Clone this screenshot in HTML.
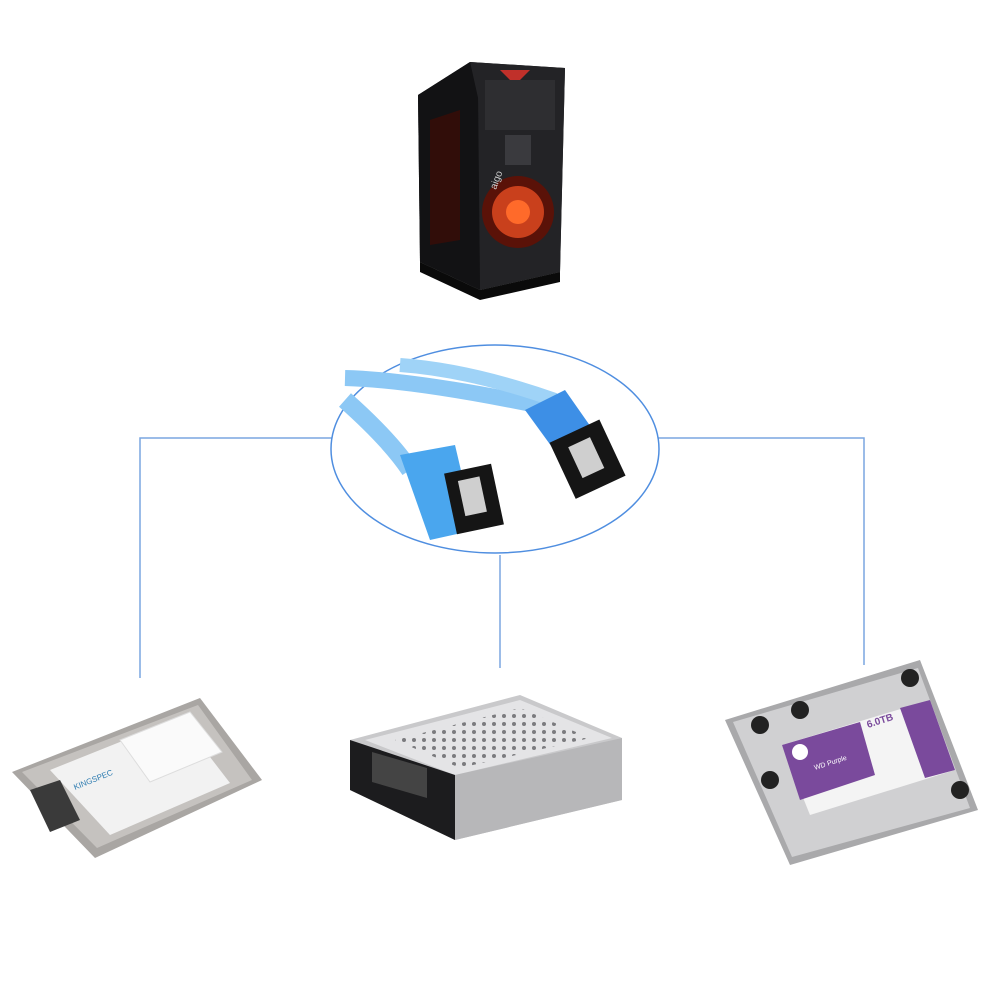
<!DOCTYPE html>
<html><head><meta charset="utf-8"><style>
html,body{margin:0;padding:0;background:#fff;}
svg{display:block}
</style></head><body>
<svg width="1000" height="1000" viewBox="0 0 1000 1000" xmlns="http://www.w3.org/2000/svg">
<rect width="1000" height="1000" fill="#fff"/>
<g stroke="#7aa6e0" stroke-width="1.5" fill="none">
<polyline points="334,438 140,438 140,678"/>
<polyline points="658,438 864,438 864,665"/>
<line x1="500" y1="555" x2="500" y2="668"/>
</g>
<g>
<polygon points="418,95 470,62 565,68 560,272 480,290 420,262" fill="#1b1b1d"/>
<polygon points="470,62 565,68 560,272 480,290 478,98" fill="#232326"/>
<polygon points="418,95 470,62 478,98 480,290 420,262" fill="#121214"/>
<rect x="485" y="80" width="70" height="50" fill="#2e2e31"/>
<polygon points="500,70 530,70 520,80 510,80" fill="#c0302a"/>
<circle cx="518" cy="212" r="36" fill="#5a1208"/>
<circle cx="518" cy="212" r="26" fill="#c9401c"/>
<circle cx="518" cy="212" r="12" fill="#ff6a2a"/>
<rect x="505" y="135" width="26" height="30" fill="#3a3a3e"/>
<text x="496" y="190" font-family="Liberation Sans, sans-serif" font-size="10" fill="#ccc" transform="rotate(-70 496 190)">aigo</text>
<polygon points="430,120 460,110 460,240 430,245" fill="#3a0c06" opacity="0.8"/>
<polygon points="420,262 480,290 560,272 560,282 480,300 420,272" fill="#0a0a0a"/>
</g>
<ellipse cx="495" cy="449" rx="164" ry="104" fill="#fff" stroke="#4f8ee0" stroke-width="1.5"/>
<g>
<path d="M345,400 Q390,440 410,470" stroke="#8cc8f5" stroke-width="18" fill="none"/>
<path d="M345,378 Q420,380 560,410" stroke="#8cc8f5" stroke-width="16" fill="none"/>
<path d="M400,365 Q470,370 555,400" stroke="#9fd3f7" stroke-width="14" fill="none"/>
<polygon points="400,455 455,445 475,530 430,540" fill="#4aa6ee"/>
<rect x="450" y="468" width="48" height="62" fill="#151515" transform="rotate(-12 474 499)"/>
<rect x="462" y="478" width="22" height="36" fill="#cfcfcf" transform="rotate(-12 474 499)"/>
<polygon points="525,410 565,390 600,440 565,465" fill="#3d8fe6"/>
<rect x="560" y="428" width="55" height="62" fill="#151515" transform="rotate(-25 588 459)"/>
<rect x="575" y="440" width="24" height="34" fill="#cfcfcf" transform="rotate(-25 588 459)"/>
</g>
<g>
<polygon points="12,772 200,698 262,780 95,858" fill="#a9a6a3"/>
<polygon points="22,772 198,705 252,780 97,848" fill="#c5c2bf"/>
<polygon points="50,770 180,718 230,783 110,835" fill="#f2f2f2"/>
<polygon points="120,740 190,712 222,752 150,782" fill="#fafafa" stroke="#ddd"/>
<polygon points="30,790 60,780 80,820 50,832" fill="#3a3a3a"/>
<text x="75" y="790" font-family="Liberation Sans, sans-serif" font-size="8" fill="#2a7ab0" transform="rotate(-22 75 790)">KINGSPEC</text>
</g>
<g>
<polygon points="350,740 520,695 622,738 622,800 455,840 350,790" fill="#c9c9cb"/>
<polygon points="365,740 520,700 612,738 455,775" fill="#e4e4e6"/>
<polygon points="350,740 455,775 455,840 350,790" fill="#1c1c1e"/>
<polygon points="372,752 427,768 427,798 372,782" fill="#444"/>
<polygon points="455,775 622,738 622,800 455,840" fill="#b7b7b9"/>
<pattern id="dots" width="10" height="8" patternUnits="userSpaceOnUse"><circle cx="4" cy="4" r="2" fill="#7b7b7e"/></pattern>
<polygon points="395,740 520,708 590,738 460,768" fill="url(#dots)"/>
</g>
<g>
<polygon points="725,720 920,660 978,810 790,865" fill="#a9a9ab"/>
<polygon points="733,722 918,668 970,808 792,857" fill="#d0d0d2"/>
<circle cx="760" cy="725" r="9" fill="#222"/>
<circle cx="800" cy="710" r="9" fill="#222"/>
<circle cx="910" cy="678" r="9" fill="#222"/>
<circle cx="770" cy="780" r="9" fill="#222"/>
<circle cx="960" cy="790" r="9" fill="#222"/>
<polygon points="782,745 930,700 955,770 810,815" fill="#f4f4f4"/>
<polygon points="782,745 860,722 875,775 800,800" fill="#7a4a9c"/>
<polygon points="900,708 930,700 955,770 925,778" fill="#7a4a9c"/>
<circle cx="800" cy="752" r="8" fill="#fff"/>
<text x="868" y="728" font-family="Liberation Sans, sans-serif" font-size="10" font-weight="bold" fill="#7a4a9c" transform="rotate(-18 868 728)">6.0TB</text>
<text x="815" y="770" font-family="Liberation Sans, sans-serif" font-size="7" fill="#fff" transform="rotate(-18 815 770)">WD Purple</text>
</g>
</svg>
</body></html>
